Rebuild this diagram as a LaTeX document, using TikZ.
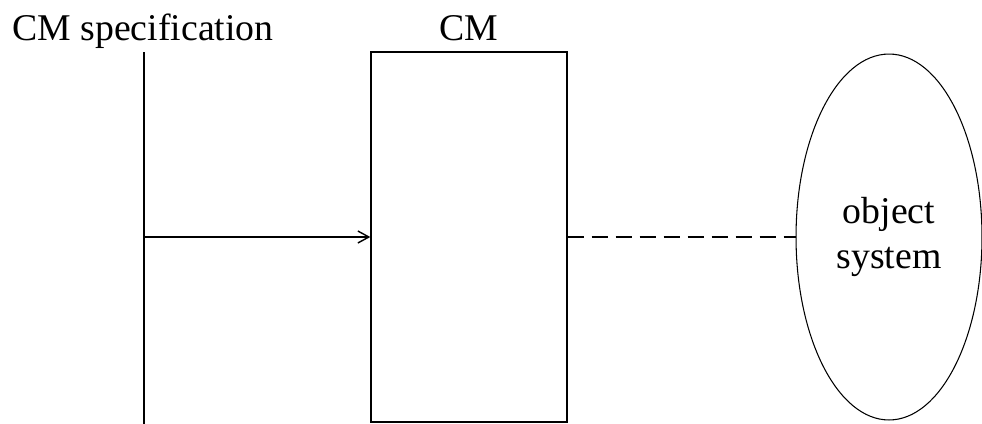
\documentclass[tikz,border=0pt]{standalone}
\usepackage{fontspec}
\setmainfont{Liberation Serif}
\usetikzlibrary{arrows.meta,shapes.geometric}

\begin{document}
\begin{tikzpicture}[x=0.02cm,y=-0.02cm, >={Straight Barb[length=2.2mm,width=2.4mm]},
    line width=0.8pt,
    lbl/.style={font=\fontsize{21.5}{25.5}\selectfont,inner sep=0pt,anchor=base},
    cmbox/.style={draw,minimum width=3.92cm,minimum height=7.4cm,inner sep=0pt},
    objsys/.style={draw,ellipse,line width=0.6pt,minimum width=3.72cm,minimum height=7.32cm,
      inner sep=0pt,align=center,font=\fontsize{21.5}{25.5}\selectfont}]
  \useasboundingbox (0,0) rectangle (982,423);
  \node[lbl] (spec) at (143,40) {CM specification};
  \coordinate (spectop) at (144,52);
  \coordinate (specbot) at (144,425);
  \draw (spectop) -- (specbot);
  \coordinate (tap) at (144,237);
  \node[cmbox] (cm) at (469,237) {};
  \node[lbl] (cmlbl) at (469,40) {CM};
  \node[objsys] (obj) at (889,237) {object\\system};
  \draw[->] (tap) -- (cm.west);
  \draw[dash pattern=on 0.32cm off 0.16cm] (cm.east) -- (obj.west);
\end{tikzpicture}
\end{document}
